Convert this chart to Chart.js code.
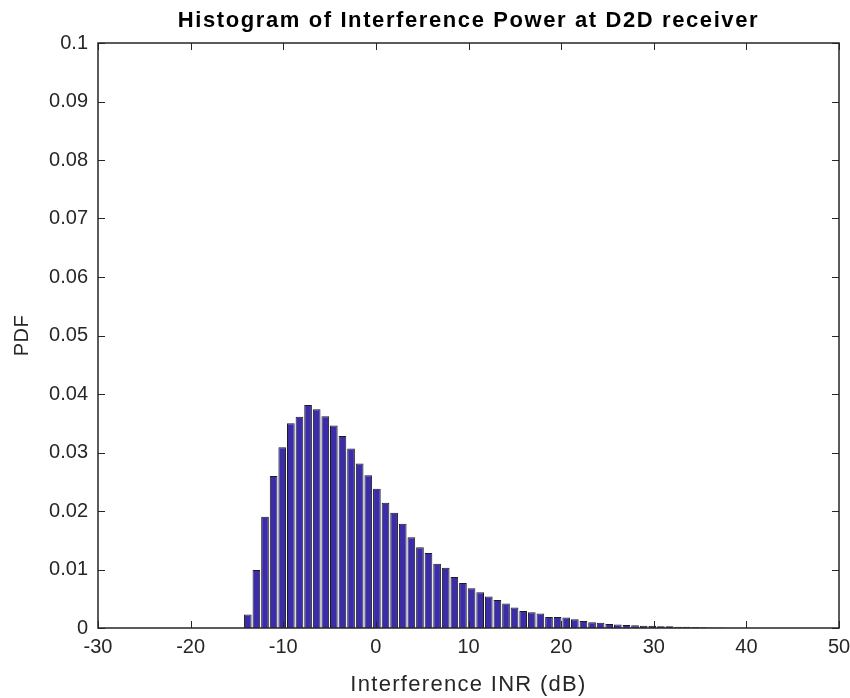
<!DOCTYPE html>
<html>
<head>
<meta charset="utf-8">
<script src="https://cdn.jsdelivr.net/npm/chart.js@4/dist/chart.umd.min.js"></script>
<style>
  html, body { margin: 0; padding: 0; background: #fff; }
  #wrap { width: 850px; height: 698px; }
</style>
</head>
<body>
<div id="wrap"><canvas id="histChart"></canvas></div>
<script>
// bin centres of the histogram (dB)
const binCenters = [
  -13.83, -12.90, -11.97, -11.04, -10.11, -9.18, -8.25, -7.32, -6.39, -5.46,
  -4.54, -3.61, -2.68, -1.75, -0.82, 0.11, 1.04, 1.97, 2.90, 3.83,
  4.76, 5.68, 6.61, 7.54, 8.47, 9.40, 10.33, 11.26, 12.19, 13.12,
  14.05, 14.97, 15.90, 16.83, 17.76, 18.69, 19.62, 20.55, 21.48, 22.41,
  23.34, 24.26, 25.19, 26.12, 27.05, 27.98, 28.91, 29.84, 30.77, 31.70,
  32.63, 33.55, 34.48, 35.41, 36.34, 37.27, 38.20, 39.13, 40.06, 40.99,
  41.92, 42.84, 43.77, 44.70, 45.63, 46.56, 47.49, 48.42, 49.35
];

// PDF value of each bin
const pdfValues = [
  0.0023, 0.0099, 0.0190, 0.0260, 0.0309, 0.0350, 0.0361, 0.0381, 0.0374, 0.0362,
  0.0346, 0.0328, 0.0307, 0.0281, 0.0261, 0.0238, 0.0214, 0.0197, 0.0178, 0.0155,
  0.0138, 0.0128, 0.0110, 0.0103, 0.0087, 0.0077, 0.0068, 0.0061, 0.0054, 0.0048,
  0.0042, 0.0035, 0.0029, 0.0027, 0.0025, 0.0019, 0.0019, 0.0018, 0.0015, 0.0012,
  0.0010, 0.0009, 0.0007, 0.0006, 0.0005, 0.00045, 0.0004, 0.0004, 0.0003, 0.0003,
  0.0002, 0.0002, 0.00015, 0.00012, 0.0001, 0.00008, 0.00006, 0.00005, 0.00004, 0.00003,
  0.00002, 0.00002, 0.00001, 0.00001, 0.00001, 0.00001, 0, 0, 0
];

const xTicks = [-30, -20, -10, 0, 10, 20, 30, 40, 50];
const yTicks = [0, 0.01, 0.02, 0.03, 0.04, 0.05, 0.06, 0.07, 0.08, 0.09, 0.1];

const titleText = 'Histogram of Interference Power at D2D receiver';
const xLabel = 'Interference INR (dB)';
const yLabel = 'PDF';

const axisColor = '#262626';
const fontFamily = '"Liberation Sans", Arial, Helvetica, sans-serif';

// box around the axes, inward ticks on all four sides, title and axis labels
const matlabAxes = {
  id: 'matlabAxes',
  afterDraw(chart) {
    const ctx = chart.ctx;
    const area = chart.chartArea;
    const xs = chart.scales.x;
    const ys = chart.scales.y;
    const len = 7;
    ctx.save();
    ctx.strokeStyle = axisColor;
    ctx.lineWidth = 1;
    ctx.beginPath();
    xTicks.forEach(v => {
      const px = Math.round(xs.getPixelForValue(v)) + 0.5;
      ctx.moveTo(px, area.bottom); ctx.lineTo(px, area.bottom - len);
      ctx.moveTo(px, area.top); ctx.lineTo(px, area.top + len);
    });
    yTicks.forEach(v => {
      const py = Math.round(ys.getPixelForValue(v)) + 0.5;
      ctx.moveTo(area.left, py); ctx.lineTo(area.left + len, py);
      ctx.moveTo(area.right, py); ctx.lineTo(area.right - len, py);
    });
    ctx.stroke();
    ctx.lineWidth = 1.5;
    ctx.strokeRect(area.left, area.top, area.right - area.left, area.bottom - area.top);

    const cx = (area.left + area.right) / 2;
    ctx.textAlign = 'center';
    ctx.textBaseline = 'middle';

    ctx.fillStyle = '#000';
    ctx.letterSpacing = '1.6px';
    ctx.font = 'bold 22px ' + fontFamily;
    ctx.fillText(titleText, cx, 21);

    ctx.fillStyle = axisColor;
    ctx.letterSpacing = '1.3px';
    ctx.font = '22px ' + fontFamily;
    ctx.fillText(xLabel, cx, 685);

    ctx.letterSpacing = '0.5px';
    ctx.font = '20px ' + fontFamily;
    ctx.translate(22, (area.top + area.bottom) / 2);
    ctx.rotate(-Math.PI / 2);
    ctx.fillText(yLabel, 0, 0);
    ctx.restore();
  }
};

const ctx = document.getElementById('histChart');
new Chart(ctx, {
  type: 'bar',
  data: {
    datasets: [{
      label: 'PDF',
      data: binCenters.map((c, i) => ({ x: c, y: pdfValues[i] })),
      backgroundColor: '#3b2ca8',
      borderColor: '#1c1c1c',
      borderWidth: 1,
      barPercentage: 0.9,
      categoryPercentage: 1.0
    }]
  },
  options: {
    responsive: true,
    maintainAspectRatio: false,
    animation: false,
    layout: { padding: { top: 43, right: 11, left: 0, bottom: 0 } },
    plugins: {
      legend: { display: false },
      tooltip: { enabled: false },
      title: { display: false }
    },
    scales: {
      x: {
        type: 'linear',
        offset: false,
        min: -30,
        max: 50,
        afterBuildTicks: scale => { scale.ticks = xTicks.map(v => ({ value: v })); },
        afterFit: scale => {
          scale.height = 70;
          scale.paddingLeft = 0;
          scale.paddingRight = 0;
        },
        grid: { display: false, drawTicks: false },
        border: { display: false },
        ticks: {
          color: axisColor,
          font: { family: fontFamily, size: 20 },
          padding: 7,
          maxRotation: 0,
          callback: v => String(v)
        }
      },
      y: {
        min: 0,
        max: 0.1,
        afterBuildTicks: scale => { scale.ticks = yTicks.map(v => ({ value: v })); },
        afterFit: scale => {
          scale.width = 98;
          scale.paddingTop = 0;
          scale.paddingBottom = 0;
        },
        grid: { display: false, drawTicks: false },
        border: { display: false },
        ticks: {
          color: axisColor,
          font: { family: fontFamily, size: 20 },
          padding: 10,
          callback: v => String(+v.toFixed(2))
        }
      }
    }
  },
  plugins: [matlabAxes]
});
</script>
</body>
</html>
